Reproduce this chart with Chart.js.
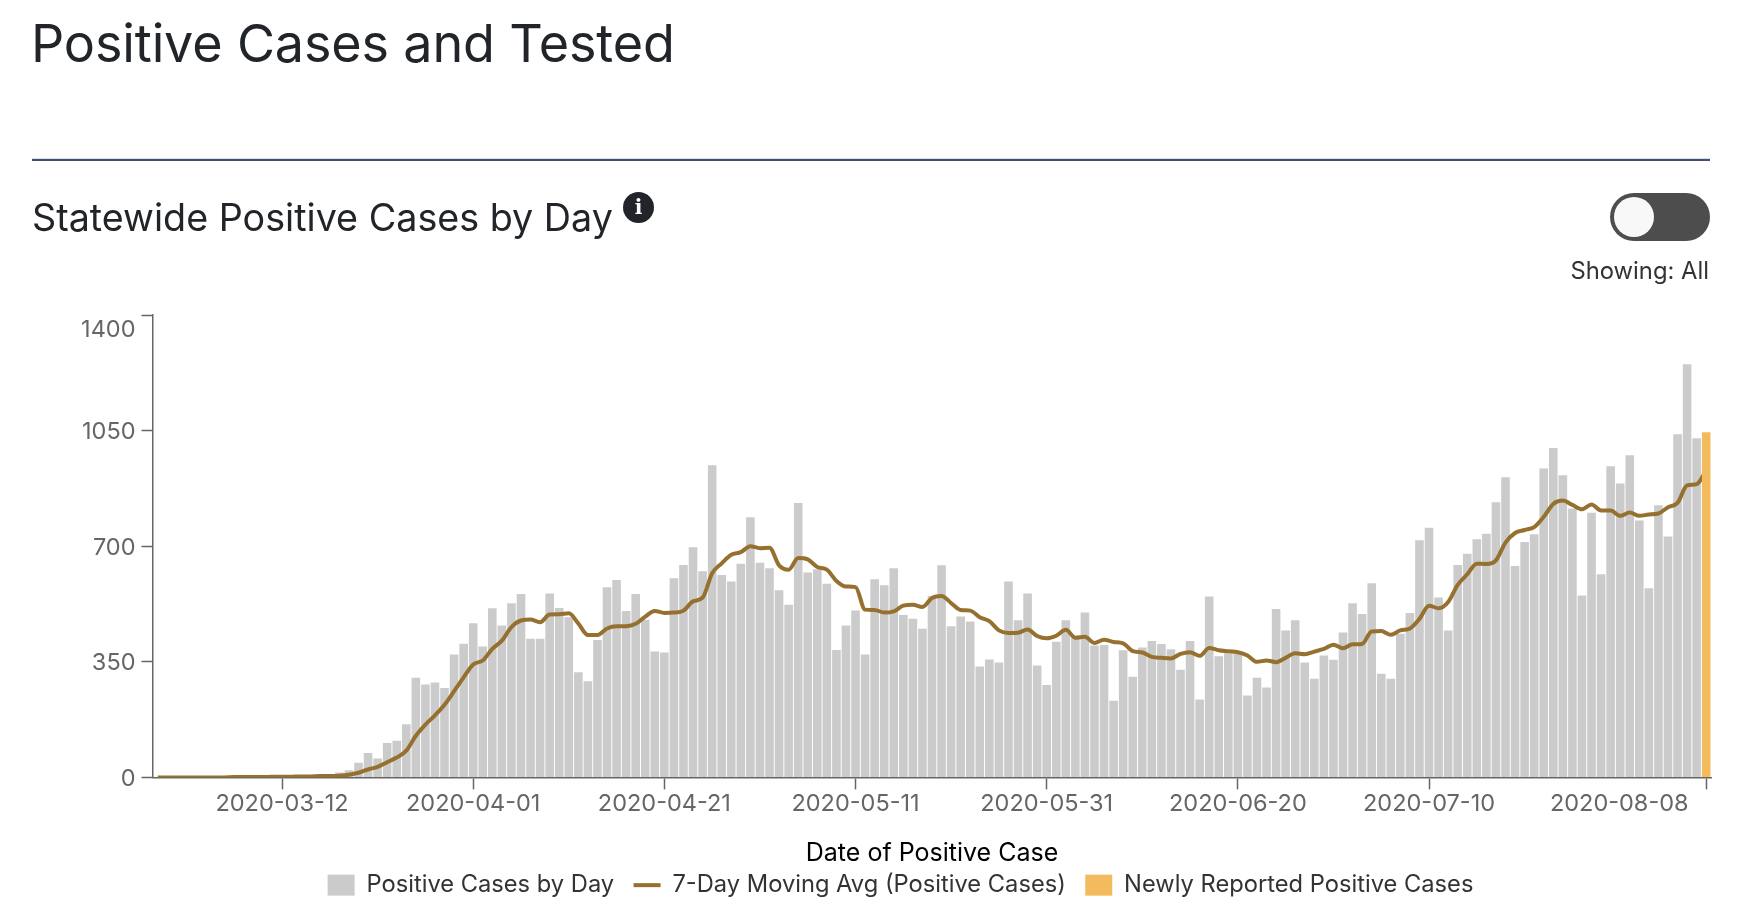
<!DOCTYPE html>
<html><head><meta charset="utf-8">
<script src="https://cdn.jsdelivr.net/npm/chart.js@4"></script>
<style>
html,body{margin:0;padding:0;background:#fff;width:1742px;height:913px;overflow:hidden;font-family:Inter,sans-serif;color:#212529}
#c{position:absolute;left:0;top:0}
.t{position:absolute;white-space:nowrap;line-height:1}
#h1{left:31px;top:18px;font-size:52.1px;letter-spacing:-0.15px;font-weight:400}
#rule{position:absolute;left:32px;top:158px;width:1678px;height:2px;background:#44506e;border-top:1px solid #d7e0ef}
#h2{left:32px;top:199px;font-size:37.7px;font-weight:400}
#info{position:absolute;left:623px;top:192px;width:31px;height:31px;border-radius:50%;background:#212529;color:#fff;font:bold 20px/31px "DejaVu Serif",serif;text-align:center}
#tog{position:absolute;left:1610px;top:193px;width:100px;height:48px;border-radius:24px;background:#4d4d4d}
#knob{position:absolute;left:4px;top:4px;width:40px;height:40px;border-radius:50%;background:#f8f8f8}
#show{right:33px;top:259px;font-size:23.8px;color:#333}
</style></head><body>
<canvas id="c" width="1742" height="913"></canvas>
<div class="t" id="h1">Positive Cases and Tested</div>
<div id="rule"></div>
<div class="t" id="h2">Statewide Positive Cases by Day</div>
<div id="info">i</div>
<div id="tog"><div id="knob"></div></div>
<div class="t" id="show">Showing: All</div>
<script>
const firstDay = '2020-02-28';
const dayCount = 163;
const xTickLabels = ['2020-03-12','2020-04-01','2020-04-21','2020-05-11','2020-05-31','2020-06-20','2020-07-10','2020-08-08'];
const yTicks = [0,350,700,1050,1400];
const positiveByDay = [0,0,0,0,0,0,0,1,0,1,1,2,1,1,2,2,3,4,4,15,22,44,74,57,104,111,161,302,281,287,271,372,405,467,396,512,460,527,555,420,420,557,513,485,318,291,416,576,598,504,555,477,381,378,603,643,697,624,945,613,593,647,788,650,633,567,523,831,620,630,586,386,460,505,372,600,582,633,492,480,450,549,642,458,487,472,336,357,348,593,476,557,339,280,411,476,425,499,399,401,232,385,305,393,413,404,388,326,413,236,548,367,376,376,248,302,272,510,445,476,348,299,369,356,439,527,495,588,314,299,435,498,718,756,545,445,643,677,721,738,833,909,640,713,736,935,997,915,814,551,801,615,942,890,975,778,573,824,729,1039,1251,1027,null];
const movingAvg = [0,0,0,0,0,0,0,0,1,1,1,1,2,2,2,3,3,4,4,5,8,14,24,32,46,60,81,126,160,188,220,261,303,342,354,389,414,455,475,478,470,493,494,497,466,431,431,451,458,458,465,487,504,498,499,505,533,544,618,648,674,682,700,694,695,642,629,664,660,637,629,595,578,576,508,507,499,503,520,523,516,543,549,528,507,505,485,473,445,437,438,448,428,421,429,447,423,426,407,417,410,406,382,378,365,362,360,374,379,368,392,385,382,379,369,350,354,349,362,376,373,381,389,402,391,403,404,442,443,432,445,451,480,520,512,531,583,615,647,646,657,711,740,749,758,789,828,838,825,812,826,808,808,792,802,792,796,799,818,831,884,888,930];
const newlyReported = new Array(dayCount-1).fill(null).concat([1045]);

const categories = [];
{ const d = new Date(firstDay+'T00:00:00Z');
  for(let i=0;i<dayCount;i++){ categories.push(d.toISOString().slice(0,10)); d.setUTCDate(d.getUTCDate()+1); } }

const FONT='Inter, sans-serif';
const AXIS='#666666';

const labelNudge={
  id:'labelNudge',
  afterLayout(chart){ chart.legend.left+=60; },
  beforeDraw(chart){
    const x=chart.scales.x, y=chart.scales.y;
    for(const it of x.getLabelItems()){
      if(it.label==='2020-08-08') it.options.translation[0]=x.getPixelForValue(dayCount-1)-87;
    }
    for(const it of y.getLabelItems()){
      const v=Number(it.label);
      it.options.translation[1]=y.getPixelForValue(v)+(v===1400?15:1.5);
    }
  }
};

new Chart(document.getElementById('c'),{
  type:'bar',
  data:{labels:categories,datasets:[
    {type:'bar',label:'Positive Cases by Day',data:positiveByDay,backgroundColor:'#cbcbcb',order:3,grouped:false,barPercentage:0.9,categoryPercentage:1},
    {type:'line',label:'7-Day Moving Avg (Positive Cases)',data:movingAvg,borderColor:'#96702f',backgroundColor:'#96702f',borderWidth:4,pointRadius:0,cubicInterpolationMode:'monotone',order:2},
    {type:'bar',label:'Newly Reported Positive Cases',data:newlyReported,backgroundColor:'#f3bb5e',order:1,grouped:false,barPercentage:0.9,categoryPercentage:1}
  ]},
  options:{
    responsive:false,animation:false,devicePixelRatio:1,
    layout:{autoPadding:false,padding:{left:30,right:31,top:315,bottom:6}},
    plugins:{
      tooltip:{enabled:false},
      title:{display:false},
      legend:{position:'bottom',labels:{
        color:'#333',font:{family:FONT,size:23.7},usePointStyle:true,pointStyleWidth:27,boxWidth:19,boxHeight:21,padding:19.4,
        sort:(a,b)=>a.datasetIndex-b.datasetIndex,
        generateLabels(chart){
          return Chart.defaults.plugins.legend.labels.generateLabels(chart).map(l=>{
            const isLine=l.datasetIndex===1;
            l.pointStyle=isLine?'line':'rect';
            l.lineWidth=isLine?4:0;
            l.strokeStyle='#96702f';
            return l;
          });
        }
      }}
    },
    scales:{
      x:{
        type:'category',offset:true,
        border:{color:AXIS,width:1.5},
        grid:{offset:false,drawOnChartArea:false,drawTicks:true,tickLength:12,
          tickColor:c=>{const v=categories[c.index];return (xTickLabels.includes(v))?AXIS:'rgba(0,0,0,0)';},tickWidth:1.5},
        ticks:{autoSkip:false,maxRotation:0,minRotation:0,padding:0,color:AXIS,font:{family:FONT,size:23.5},
          callback(v,i){const s=categories[i];return xTickLabels.includes(s)?s:'';}},
        title:{display:true,text:'Date of Positive Case',color:'#000',font:{family:FONT,size:25},padding:{top:0,bottom:-15}},
        afterFit(s){s.height=76.5;s.paddingLeft=0;s.paddingRight=0;}
      },
      y:{
        min:0,max:1400,
        border:{color:AXIS,width:1.5},
        grid:{drawOnChartArea:false,drawTicks:true,tickLength:11.5,tickColor:AXIS,tickWidth:1.5},
        ticks:{stepSize:350,padding:6,color:AXIS,font:{family:FONT,size:23.5},autoSkip:false,callback:v=>String(v)},
        afterBuildTicks(s){s.ticks=yTicks.map(v=>({value:v}));},
        afterFit(s){s.width=123;}
      }
    }
  },
  plugins:[labelNudge]
});
</script>
</body></html>
